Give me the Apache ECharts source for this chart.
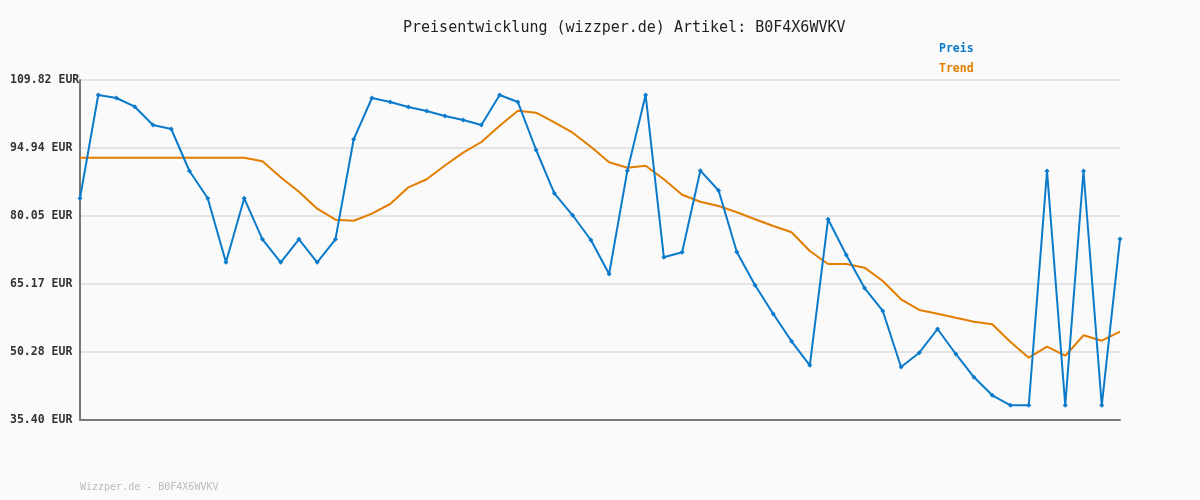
<!DOCTYPE html>
<html>
<head>
<meta charset="utf-8">
<title>Preisentwicklung</title>
<script src="https://cdn.jsdelivr.net/npm/echarts@6/dist/echarts.min.js"></script>
<style>
    html, body { margin: 0; padding: 0; background: #fafafa; }
    #chart { width: 1200px; height: 500px; }
</style>
</head>
<body>
<div id="chart"></div>
<script>
// values
var days = [];
for (var i = 1; i <= 58; i++) { days.push('T' + i); }

var preis = [
    83.93, 106.54, 105.88, 103.98, 99.97, 99.09, 89.90, 83.93, 69.92, 83.93,
    74.95, 69.92, 74.95, 69.92, 74.95, 96.84, 105.88, 105.00, 103.91, 103.03,
    101.94, 101.06, 99.97, 106.54, 105.00, 94.50, 85.02, 80.21, 74.80, 67.36,
    89.97, 106.54, 71.01, 72.11, 89.97, 85.63, 72.17, 64.88, 58.60, 52.63,
    47.37, 79.33, 71.52, 64.29, 59.26, 47.00, 50.13, 55.32, 49.85, 44.75,
    40.81, 38.62, 38.62, 89.90, 38.62, 89.90, 38.62, 75.02
];

var trend = [
    92.81, 92.81, 92.81, 92.81, 92.81, 92.81, 92.81, 92.81, 92.81, 92.81,
    92.02, 88.52, 85.37, 81.65, 79.24, 79.02, 80.56, 82.68, 86.33, 88.09,
    91.11, 93.91, 96.25, 99.82, 103.10, 102.66, 100.56, 98.29, 95.22, 91.81,
    90.62, 91.06, 88.09, 84.71, 83.18, 82.24, 80.86, 79.33, 77.86, 76.48,
    72.39, 69.55, 69.55, 68.74, 65.82, 61.82, 59.48, 58.67, 57.79, 56.92,
    56.35, 52.47, 49.04, 51.44, 49.47, 53.94, 52.76, 54.73
];

var yMin = 35.40;
var yMax = 109.82;
var yStep = 14.884;

var blue = '#0a7acb';
var orange = '#e27d00';
var mono = '"DejaVu Sans Mono", monospace';

var chart = echarts.init(document.getElementById('chart'));

var option = {
    backgroundColor: '#fafafa',
    animation: false,
    title: {
        text: 'Preisentwicklung (wizzper.de) Artikel: B0F4X6WVKV',
        left: 403,
        top: 21,
        padding: 0,
        textStyle: { fontFamily: mono, fontSize: 15, fontWeight: 'normal', color: '#222' }
    },
    legend: {
        orient: 'vertical',
        left: 934,
        top: 43,
        icon: 'none',
        itemWidth: 0,
        itemHeight: 12,
        itemGap: 8,
        padding: 0,
        selectedMode: false,
        textStyle: { fontFamily: mono, fontSize: 11.5, fontWeight: 'bold', padding: 0 },
        data: [
            { name: 'Preis', textStyle: { color: blue } },
            { name: 'Trend', textStyle: { color: orange } }
        ]
    },
    graphic: [{
        type: 'text',
        left: 80,
        top: 482,
        style: { text: 'Wizzper.de - B0F4X6WVKV', fontFamily: mono, fontSize: 10, fill: '#bbb' }
    }],
    grid: { left: 80, right: 80, top: 80, bottom: 80 },
    xAxis: {
        type: 'category',
        data: days,
        boundaryGap: false,
        axisLine: { lineStyle: { color: '#777', width: 2 } },
        axisTick: { show: false },
        axisLabel: { show: false },
        splitLine: { show: false }
    },
    yAxis: {
        type: 'value',
        min: yMin,
        max: yMax,
        interval: yStep,
        axisLine: { show: true, lineStyle: { color: '#777', width: 2 } },
        axisTick: { show: false },
        axisLabel: {
            align: 'left',
            margin: 70,
            fontFamily: mono,
            fontSize: 11.5,
            fontWeight: 'bold',
            color: '#333',
            formatter: function (v) { return v.toFixed(2) + ' EUR'; }
        },
        splitLine: { lineStyle: { color: '#e4e4e4', width: 2 } }
    },
    series: [
        {
            name: 'Preis',
            type: 'line',
            data: preis,
            symbol: 'diamond',
            symbolSize: 5,
            itemStyle: { color: blue },
            lineStyle: { color: blue, width: 2 },
            z: 3
        },
        {
            name: 'Trend',
            type: 'line',
            data: trend,
            showSymbol: false,
            symbol: 'none',
            itemStyle: { color: orange },
            lineStyle: { color: orange, width: 2 },
            z: 2
        }
    ]
};

chart.setOption(option);
</script>
</body>
</html>
